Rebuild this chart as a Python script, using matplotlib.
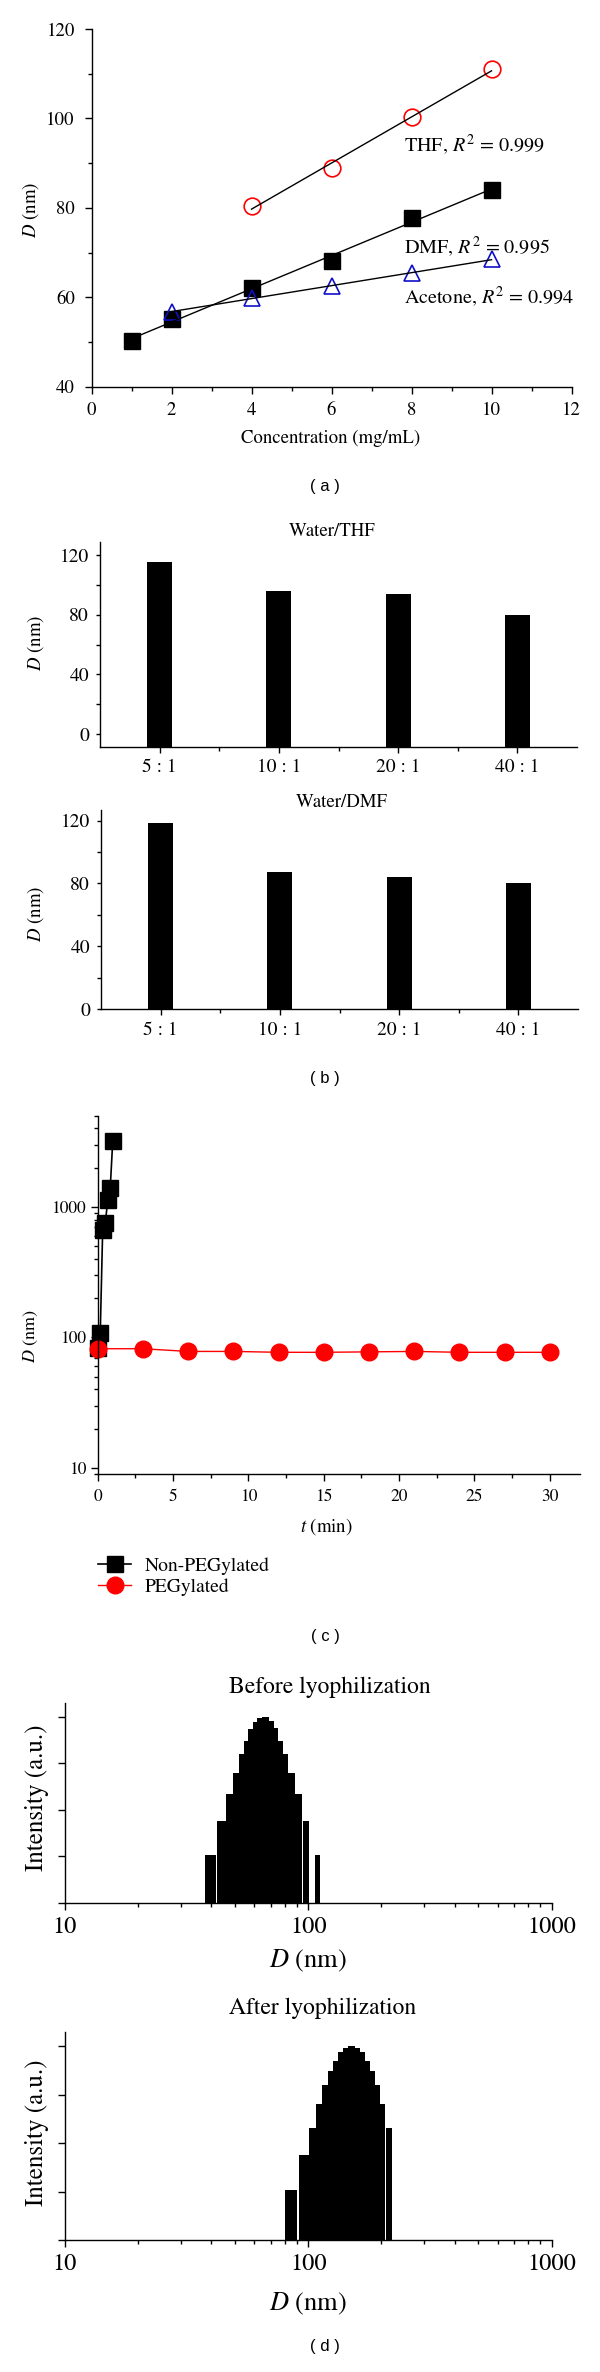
import numpy as np
import matplotlib
matplotlib.use('Agg')
import matplotlib.pyplot as plt
from matplotlib.ticker import MultipleLocator, FixedLocator, NullFormatter, LogLocator

plt.rcParams['font.family'] = 'STIXGeneral'
plt.rcParams['mathtext.fontset'] = 'stix'

W, H = 600, 2372

# (a) size vs. concentration
conc_thf = [4, 6, 8, 10]
d_thf = [80.4, 89.0, 100.3, 111.0]
conc_dmf = [1, 2, 4, 6, 8, 10]
d_dmf = [50.3, 55.1, 62.1, 68.2, 77.8, 83.9]
conc_ace = [2, 4, 6, 8, 10]
d_ace = [56.8, 59.8, 62.5, 65.4, 68.5]
fit_text = ['THF, $R^2$ = 0.999', 'DMF, $R^2$ = 0.995', 'Acetone, $R^2$ = 0.994']

# (b) water / solvent ratio
ratios = ['5 : 1', '10 : 1', '20 : 1', '40 : 1']
d_water_thf = [115.7, 95.9, 93.7, 79.8]
d_water_dmf = [118.3, 87.3, 84.3, 80.0]

# (c) stability in time
t_non = [0, 0.17, 0.33, 0.5, 0.67, 0.83, 1.0]
d_non = [83, 109, 667, 750, 1132, 1390, 3220]
t_peg = [0, 3, 6, 9, 12, 15, 18, 21, 24, 27, 30]
d_peg = [82, 82, 78.2, 78.2, 77, 77, 77.6, 78.2, 77, 77, 77]

# (d) size distributions (bin edges in nm, relative intensity)
before_left = [37.7, 42.1, 46.0, 49.0, 52.0, 54.5, 56.6, 59.0, 61.5, 64.5, 68.7, 72.0, 74.8, 78.7, 82.5, 88.4, 95.6, 106.9]
before_right = [41.7, 46.0, 49.0, 52.0, 54.5, 56.6, 59.0, 61.5, 64.5, 68.7, 72.0, 74.8, 78.7, 82.5, 88.4, 94.2, 101.0, 112.0]
before_int = [0.26, 0.44, 0.585, 0.70, 0.80, 0.87, 0.935, 0.975, 0.995, 1.0, 0.98, 0.94, 0.87, 0.80, 0.70, 0.585, 0.44, 0.26]
after_left = [79.9, 91.2, 100.3, 107.9, 113.8, 120.1, 126.3, 132.5, 138.9, 145.2, 156.0, 162.6, 170.7, 179.0, 187.5, 196.7, 209.4]
after_right = [89.9, 100.3, 107.9, 113.8, 120.1, 126.3, 132.5, 138.9, 145.2, 156.0, 162.6, 170.7, 179.0, 187.5, 196.7, 207.5, 221.3]
after_int = [0.26, 0.44, 0.58, 0.70, 0.80, 0.87, 0.925, 0.97, 0.99, 1.0, 0.99, 0.97, 0.925, 0.87, 0.80, 0.70, 0.58]


fig = plt.figure(figsize=(W / 100, H / 100), dpi=100)


def box(x0, y0, x1, y1):
    # pixel box (top-left origin) -> figure fraction
    return [x0 / W, 1 - y1 / H, (x1 - x0) / W, (y1 - y0) / H]


def ftext(x, y, s, **kw):
    kw.setdefault('ha', 'center')
    kw.setdefault('va', 'center')
    fig.text(x / W, 1 - y / H, s, **kw)


def style(ax, size, major=5, minor=3):
    for s in ['top', 'right']:
        ax.spines[s].set_visible(False)
    for s in ['left', 'bottom']:
        ax.spines[s].set_linewidth(1.0)
    ax.tick_params(which='both', direction='out', width=1.0, labelsize=size)
    ax.tick_params(which='major', length=major)
    ax.tick_params(which='minor', length=minor)


# ---------- (a)
ax = fig.add_axes(box(91.5, 29, 571.5, 386.7))
style(ax, 13.5)
ax.tick_params(axis='y', pad=7)
ax.tick_params(axis='x', pad=6)
ax.set_xlim(0, 12)
ax.set_ylim(40, 120)
ax.xaxis.set_major_locator(MultipleLocator(2))
ax.xaxis.set_minor_locator(MultipleLocator(1))
ax.yaxis.set_major_locator(MultipleLocator(20))
ax.yaxis.set_minor_locator(MultipleLocator(10))
ax.plot(conc_dmf, d_dmf, 's', color='black', ms=11, zorder=2, clip_on=False)
ax.plot(conc_thf, d_thf, 'o', mfc='none', mec='red', ms=12, mew=1.2, zorder=2)
ax.plot(conc_ace, d_ace, '^', mfc='none', mec='#1010c8', ms=12, mew=1.2, zorder=2)
for xs, ys in [(conc_thf, d_thf), (conc_dmf, d_dmf), (conc_ace, d_ace)]:
    k, b = np.polyfit(xs, ys, 1)
    xx = np.array([xs[0], xs[-1]])
    ax.plot(xx, k * xx + b, color='black', lw=1, zorder=3)
for s, y in zip(fit_text, [94.1, 71.3, 60.2]):
    ax.text(7.82, y, s, fontsize=14.5, va='center', ha='left')
ftext(30.5, 209.5, '$D$ (nm)', rotation=90, fontsize=13.5)
ftext(331, 438.5, 'Concentration (mg/mL)', fontsize=13.5)
ftext(325, 486.8, '( a )', family='Liberation Sans', fontsize=12)

# ---------- (b)
panels_b = [
    (d_water_thf, 'Water/THF', box(100, 541.7, 577, 746.7), (-8.5, 129), 332, 531, 643),
    (d_water_dmf, 'Water/DMF', box(101, 810, 578, 1009), (0, 126.7), 342, 802, 914),
]
for vals, title, rect, ylim, tx, ty, ly in panels_b:
    ax = fig.add_axes(rect)
    style(ax, 14, major=4, minor=3)
    ax.tick_params(axis='y', which='major', length=3, pad=5)
    ax.tick_params(axis='x', which='major', pad=5)
    x = np.arange(len(ratios))
    ax.bar(x, np.array(vals) - ylim[0], bottom=ylim[0], width=0.21, color='black')
    ax.set_xlim(-0.5, 3.5)
    ax.set_ylim(*ylim)
    ax.set_xticks(x)
    ax.set_xticklabels(ratios)
    ax.xaxis.set_minor_locator(FixedLocator([0.5, 1.5, 2.5]))
    ax.yaxis.set_major_locator(FixedLocator([0, 40, 80, 120]))
    ax.yaxis.set_minor_locator(FixedLocator([20, 60, 100]))
    ftext(tx, ty, title, fontsize=13.5)
    ftext(36, ly, '$D$ (nm)', rotation=90, fontsize=13.5)
ftext(325, 1078, '( b )', family='Liberation Sans', fontsize=12)

# ---------- (c)
ax = fig.add_axes(box(97.7, 1115.7, 580, 1474))
style(ax, 12.5, major=5, minor=3)
ax.tick_params(axis='x', pad=6)
ax.set_yscale('log')
ax.set_xlim(0, 32)
ax.set_ylim(9, 5000)
ax.xaxis.set_major_locator(MultipleLocator(5))
ax.xaxis.set_minor_locator(MultipleLocator(2.5))
ax.yaxis.set_major_locator(FixedLocator([10, 100, 1000]))
ax.set_yticklabels(['10', '100', '1000'])
ax.yaxis.set_minor_locator(LogLocator(base=10, subs=np.arange(2, 10)))
ax.yaxis.set_minor_formatter(NullFormatter())
ax.plot(t_non, d_non, 's-', color='black', ms=11, lw=1.2, clip_on=False, label='Non-PEGylated')
ax.plot(t_peg, d_peg, 'o-', color='red', ms=12, lw=1, clip_on=False, label='PEGylated')
ax.legend(loc='center left', bbox_to_anchor=(98 / W, 1 - 1576.7 / H), bbox_transform=fig.transFigure,
          frameon=False, fontsize=14, borderpad=0, borderaxespad=0, handlelength=1.7,
          handletextpad=0.7, labelspacing=0.2)
ftext(30.5, 1336, '$D$ (nm)', rotation=90, fontsize=13)
ftext(326, 1527, '$t$ (min)', fontsize=13.5)
ftext(325, 1636, '( c )', family='Liberation Sans', fontsize=12)

# ---------- (d)
panels_d = [
    (before_left, before_right, before_int, 'Before lyophilization', box(65, 1703, 551.5, 1903), 1687, 1961, 1798),
    (after_left, after_right, after_int, 'After lyophilization', box(65, 2031.6, 551.5, 2240), 2008, 2304, 2133),
]
for lefts, rights, vals, title, rect, ty, xy, yy in panels_d:
    ax = fig.add_axes(rect)
    style(ax, 17.5, major=5, minor=3)
    ax.tick_params(axis='x', which='major', pad=5)
    ax.set_xscale('log')
    ax.set_xlim(10, 1000)
    ax.set_ylim(0, 1.075)
    ax.bar(lefts, vals, width=np.array(rights) - np.array(lefts), align='edge', color='black', lw=0)
    ax.xaxis.set_major_locator(FixedLocator([10, 100, 1000]))
    ax.set_xticklabels(['10', '100', '1000'])
    ax.xaxis.set_minor_locator(LogLocator(base=10, subs=np.arange(2, 10)))
    ax.xaxis.set_minor_formatter(NullFormatter())
    ax.yaxis.set_major_locator(FixedLocator([0, 0.25, 0.5, 0.75, 1.0]))
    ax.yaxis.set_major_formatter(NullFormatter())
    ftext(229, ty, title, fontsize=17, ha='left')
    ftext(308, xy, '$D$ (nm)', fontsize=19)
    ftext(37, yy, 'Intensity (a.u.)', rotation=90, fontsize=18)
ftext(325, 2347, '( d )', family='Liberation Sans', fontsize=12)

fig.savefig('out.png', dpi=100)
